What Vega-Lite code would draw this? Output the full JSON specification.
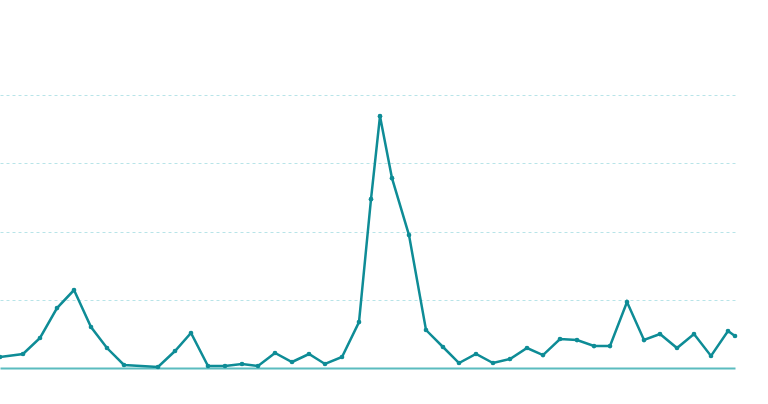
{
  "$schema": "https://vega.github.io/schema/vega-lite/v6.json",
  "width": 735,
  "height": 341,
  "autosize": {"type": "none"},
  "padding": {"left": 0, "top": 27, "right": 33, "bottom": 36},
  "background": "white",
  "config": {"view": {"stroke": null}},
  "data": {"values": [
    {"t": 0, "v": 0.161}, {"t": 23, "v": 0.205}, {"t": 40, "v": 0.44}, {"t": 57, "v": 0.879},
    {"t": 74, "v": 1.143}, {"t": 91, "v": 0.601}, {"t": 107, "v": 0.293}, {"t": 124, "v": 0.044},
    {"t": 158, "v": 0.015}, {"t": 175, "v": 0.249}, {"t": 191, "v": 0.513}, {"t": 208, "v": 0.029},
    {"t": 225, "v": 0.029}, {"t": 242, "v": 0.059}, {"t": 258, "v": 0.029}, {"t": 275, "v": 0.22},
    {"t": 292, "v": 0.088}, {"t": 309, "v": 0.205}, {"t": 325, "v": 0.059}, {"t": 342, "v": 0.161},
    {"t": 359, "v": 0.674}, {"t": 371, "v": 2.476}, {"t": 380, "v": 3.692}, {"t": 392, "v": 2.784},
    {"t": 409, "v": 1.949}, {"t": 426, "v": 0.557}, {"t": 443, "v": 0.308}, {"t": 459, "v": 0.073},
    {"t": 476, "v": 0.205}, {"t": 493, "v": 0.073}, {"t": 510, "v": 0.132}, {"t": 527, "v": 0.293},
    {"t": 543, "v": 0.19}, {"t": 560, "v": 0.425}, {"t": 577, "v": 0.41}, {"t": 594, "v": 0.322},
    {"t": 610, "v": 0.322}, {"t": 627, "v": 0.967}, {"t": 644, "v": 0.41}, {"t": 660, "v": 0.498},
    {"t": 677, "v": 0.293}, {"t": 694, "v": 0.498}, {"t": 711, "v": 0.176}, {"t": 728, "v": 0.542},
    {"t": 735, "v": 0.469}
  ]},
  "encoding": {
    "x": {"field": "t", "type": "quantitative", "scale": {"domain": [0, 735], "nice": false, "zero": false},
      "axis": {"title": null, "labels": false, "ticks": false, "grid": false, "domain": true, "domainColor": "#5bbcbf", "domainWidth": 2}},
    "y": {"field": "v", "type": "quantitative", "scale": {"domain": [0, 5], "nice": false},
      "axis": {"title": null, "labels": false, "ticks": false, "domain": false, "grid": true, "values": [1, 2, 3, 4],
        "gridColor": "#b8e4e8", "gridDash": [3, 3], "gridWidth": 1}}
  },
  "layer": [
    {"mark": {"type": "line", "color": "#0e8c96", "strokeWidth": 2.5}},
    {"mark": {"type": "point", "filled": true, "color": "#0e8c96", "size": 22, "opacity": 1}}
  ]
}
